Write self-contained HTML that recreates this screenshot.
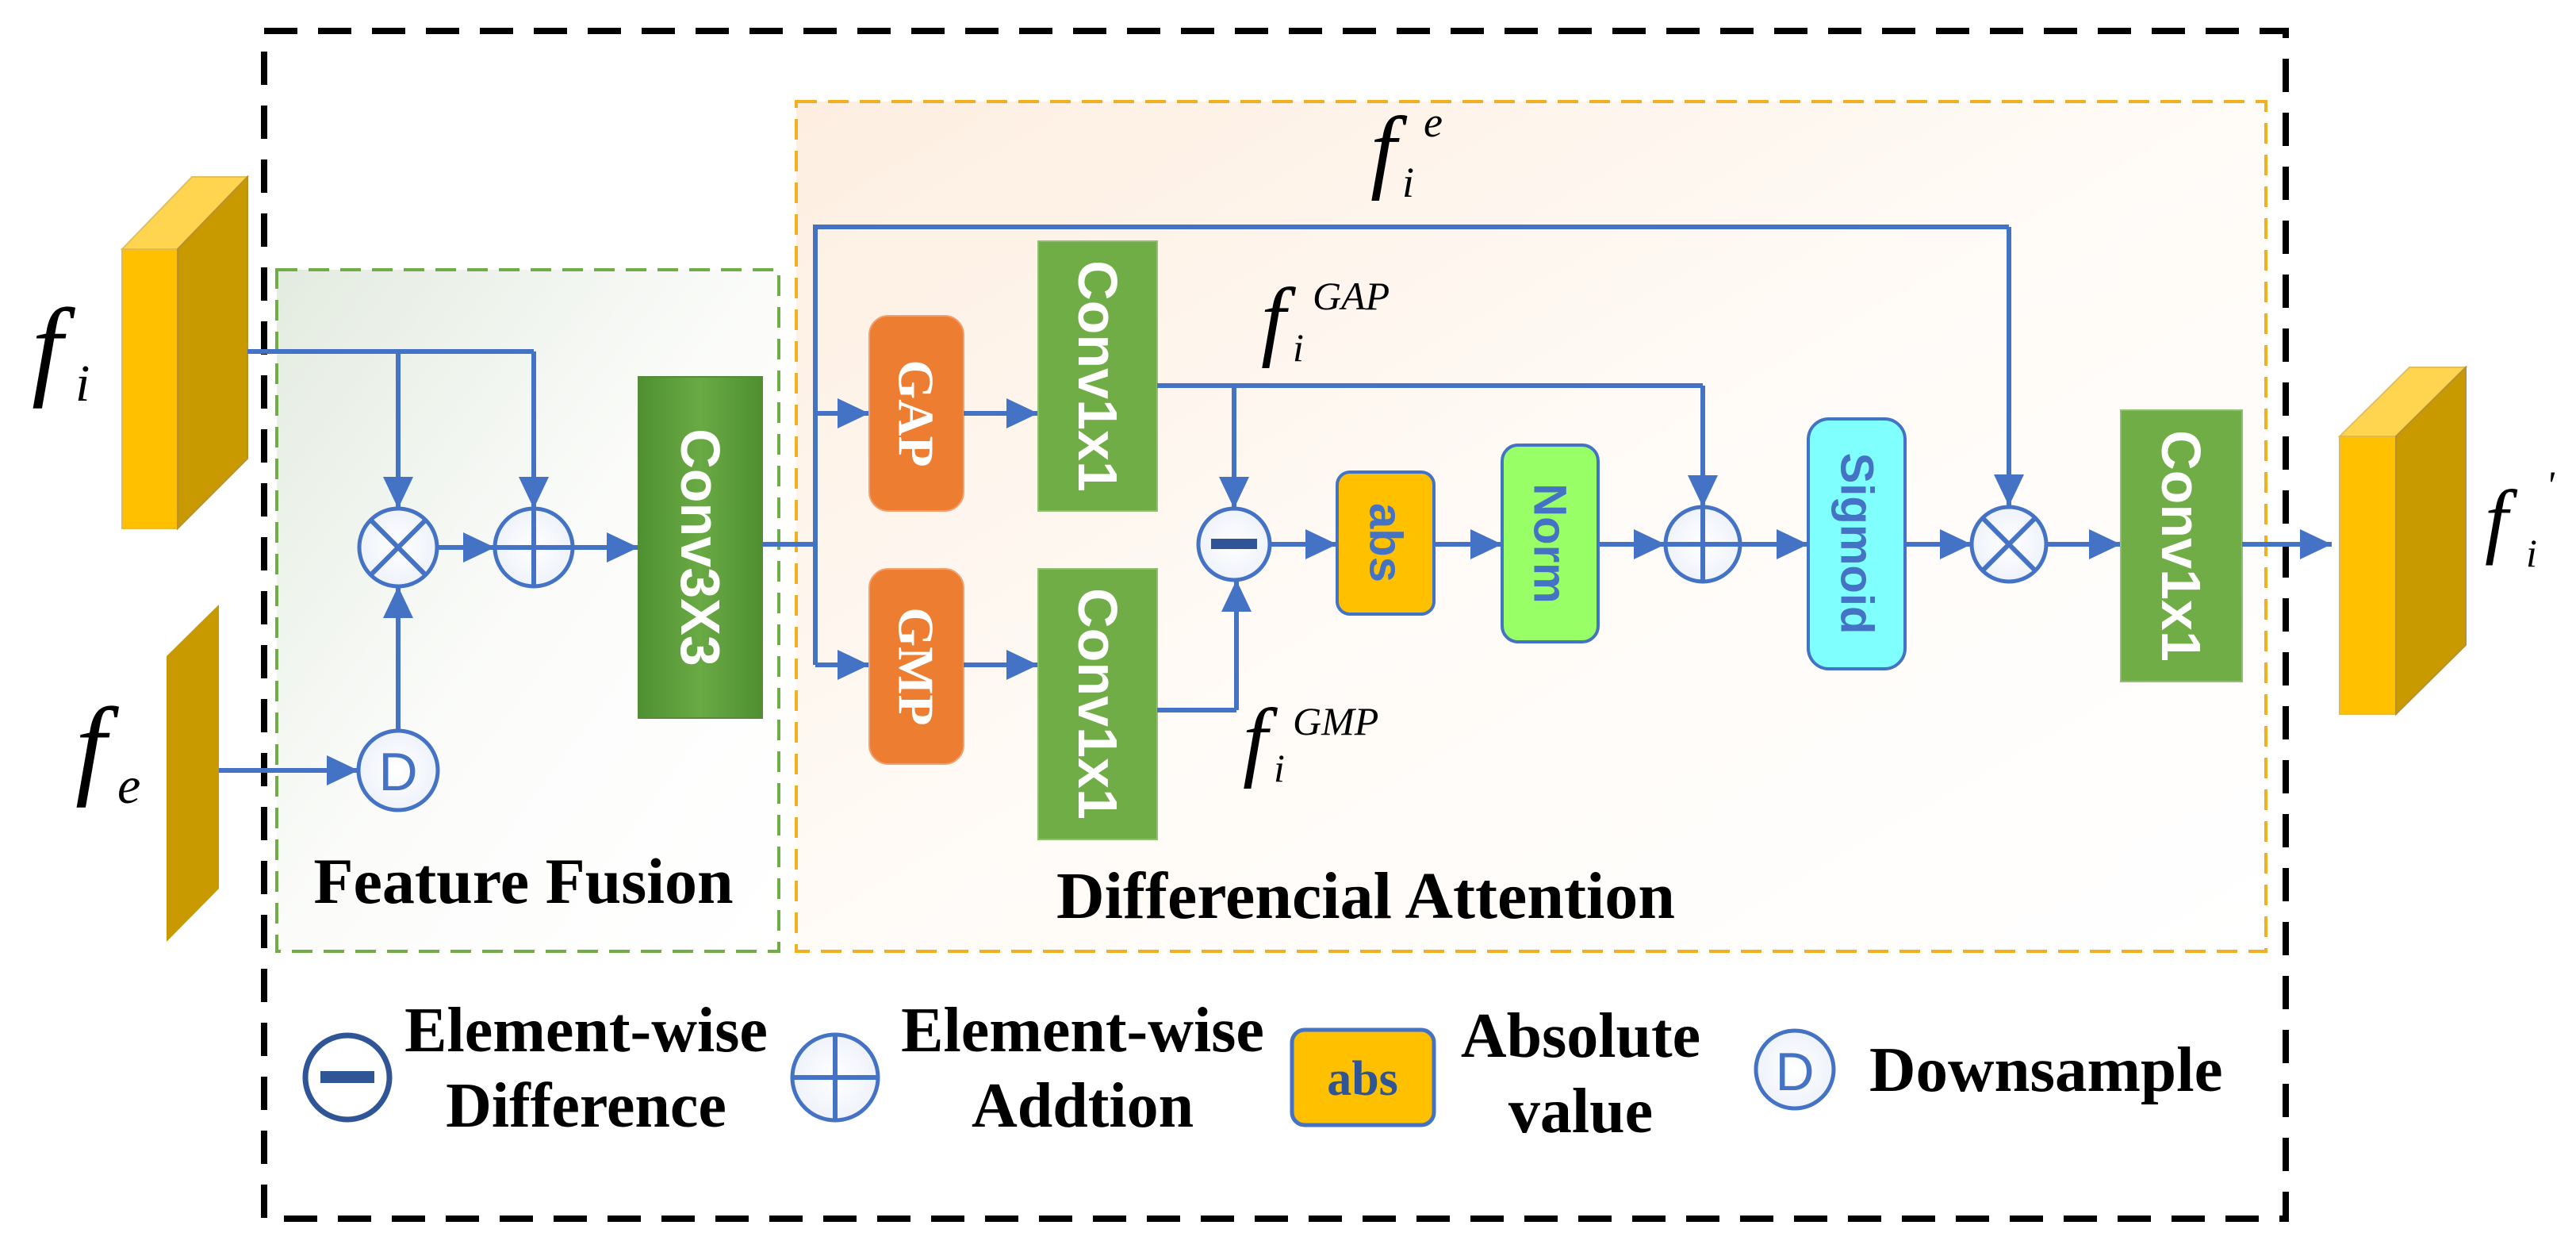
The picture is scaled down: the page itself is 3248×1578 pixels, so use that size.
<!DOCTYPE html>
<html><head><meta charset="utf-8"><style>body{margin:0;background:#fff}svg{display:block}</style></head><body>
<svg width="3248" height="1578" viewBox="0 0 3248 1578" xmlns="http://www.w3.org/2000/svg">
<defs>
<linearGradient id="gg" x1="0" y1="0" x2="1" y2="1"><stop offset="0" stop-color="#e3ebe0"/><stop offset="0.5" stop-color="#fbfcfa"/><stop offset="1" stop-color="#ffffff"/></linearGradient>
<linearGradient id="og" x1="0" y1="0" x2="1" y2="1"><stop offset="0" stop-color="#fdeee0"/><stop offset="0.5" stop-color="#fffbf7"/><stop offset="1" stop-color="#ffffff"/></linearGradient>
<linearGradient id="cg" x1="0" y1="0" x2="1" y2="0"><stop offset="0" stop-color="#4e8f30"/><stop offset="0.5" stop-color="#6aaa45"/><stop offset="1" stop-color="#4e8f30"/></linearGradient>
<marker id="a" markerWidth="40" markerHeight="38" refX="10" refY="5" orient="auto" markerUnits="userSpaceOnUse" viewBox="0 0 10 10" preserveAspectRatio="none"><path d="M0,0 L10,5 L0,10 z" fill="#4472C4"/></marker>
<radialGradient id="cf"><stop offset="0" stop-color="#fff"/><stop offset="1" stop-color="#eef2fa"/></radialGradient>
</defs>
<style>
.l{stroke:#4472C4;stroke-width:6;fill:none}
.ar{stroke:#4472C4;stroke-width:6;fill:none;marker-end:url(#a)}
.c{stroke:#4472C4;stroke-width:5;fill:url(#cf)}
.t{font-family:"Liberation Serif",serif;font-weight:bold;fill:#000}
.m{font-family:"Liberation Serif",serif;font-style:italic;fill:#000}
.s{font-family:"Liberation Sans","DejaVu Sans",sans-serif;font-weight:bold}
</style>
<!-- boxes -->
<rect x="349" y="340" width="633" height="859" fill="url(#gg)" stroke="#70AD47" stroke-width="4" stroke-dasharray="26,14"/>
<rect x="1004" y="128" width="1853" height="1071" fill="url(#og)" stroke="#F0B020" stroke-width="4" stroke-dasharray="26,14"/>
<rect x="333" y="39" width="2549" height="1497" fill="none" stroke="#000" stroke-width="8" stroke-dasharray="42,26"/>
<!-- fi block -->
<polygon points="154,314 224,314 312,223 242,223" fill="#FFD54F" stroke="#e0c060" stroke-width="2"/>
<rect x="154" y="314" width="70" height="352" fill="#FFC000" stroke="#e5b84a" stroke-width="2"/>
<polygon points="224,314 312,223 312,578 224,666" fill="#C99A00" stroke="#b89030" stroke-width="2"/>
<text class="m" x="40" y="485" font-size="140">f</text><text class="m" x="95" y="505" font-size="66">i</text>
<!-- fe -->
<polygon points="210,827 276,762 276,1120 210,1187" fill="#C99A00"/>
<text class="m" x="95" y="988" font-size="140">f</text><text class="m" x="148" y="1012" font-size="66">e</text>
<!-- feature fusion lines -->
<path class="l" d="M312,443 H673"/>
<path class="ar" d="M502,443 V641"/>
<path class="ar" d="M673,443 V641"/>
<path class="ar" d="M276,971 H452"/>
<path class="ar" d="M502,921 V739"/>
<path class="ar" d="M551,690 H624"/>
<path class="ar" d="M722,690 H805"/>
<circle class="c" cx="502" cy="690" r="49"/><path class="l" d="M467,655 L537,725 M537,655 L467,725" stroke-width="4"/>
<circle class="c" cx="673" cy="690" r="49"/><path class="l" d="M624,690 H722 M673,641 V739" stroke-width="4"/>
<circle class="c" cx="502" cy="971" r="50"/>
<text class="s" x="502" y="996" font-size="68" fill="#4472C4" text-anchor="middle" style="font-weight:normal">D</text>
<rect x="805" y="475" width="156" height="430" fill="url(#cg)" stroke="#558b3a" stroke-width="2"/>
<text class="s" transform="translate(883,690) rotate(90)" font-size="70" fill="#fff" text-anchor="middle" dominant-baseline="central">Conv3X3</text>
<!-- attention -->
<path class="l" d="M961,686 H1028 M1028,838 V286 H2533"/>
<path class="ar" d="M2533,286 V638"/>
<path class="ar" d="M1028,521 H1096"/>
<path class="ar" d="M1028,838 H1096"/>
<rect x="1096" y="398" width="119" height="246" rx="24" fill="#ED7D31" stroke="#f3a070" stroke-width="2"/>
<text class="t" transform="translate(1155,521) rotate(90)" font-size="64" style="fill:#fff" text-anchor="middle" dominant-baseline="central">GAP</text>
<rect x="1096" y="717" width="119" height="246" rx="24" fill="#ED7D31" stroke="#f3a070" stroke-width="2"/>
<text class="t" transform="translate(1155,840) rotate(90)" font-size="64" style="fill:#fff" text-anchor="middle" dominant-baseline="central">GMP</text>
<path class="ar" d="M1215,521 H1309"/>
<path class="ar" d="M1215,838 H1309"/>
<rect x="1309" y="304" width="150" height="340" fill="#70AD47" stroke="#8fc070" stroke-width="2"/>
<text class="s" transform="translate(1384,474) rotate(90)" font-size="70" fill="#fff" text-anchor="middle" dominant-baseline="central">Conv1x1</text>
<rect x="1309" y="717" width="150" height="341" fill="#70AD47" stroke="#8fc070" stroke-width="2"/>
<text class="s" transform="translate(1384,887) rotate(90)" font-size="70" fill="#fff" text-anchor="middle" dominant-baseline="central">Conv1x1</text>
<path class="l" d="M1459,486 H2147"/>
<path class="ar" d="M1556,486 V641"/>
<path class="ar" d="M2147,486 V639"/>
<path class="l" d="M1459,895 H1559"/><path class="ar" d="M1559,895 V731"/>
<circle class="c" cx="1556" cy="686" r="45"/><rect x="1527" y="679" width="58" height="13" fill="#2F5597"/>
<path class="ar" d="M1601,686 H1686"/>
<rect x="1686" y="595" width="122" height="179" rx="16" fill="#FFC000" stroke="#4472C4" stroke-width="4"/>
<text class="s" transform="translate(1747,684) rotate(90)" font-size="58" fill="#4472C4" text-anchor="middle" dominant-baseline="central">abs</text>
<path class="ar" d="M1808,686 H1894"/>
<rect x="1894" y="561" width="121" height="248" rx="20" fill="#99FF66" stroke="#4472C4" stroke-width="4"/>
<text class="s" transform="translate(1954,685) rotate(90)" font-size="58" fill="#4472C4" text-anchor="middle" dominant-baseline="central">Norm</text>
<path class="ar" d="M2015,686 H2100"/>
<circle class="c" cx="2147" cy="686" r="47"/><path class="l" d="M2100,686 H2194 M2147,639 V733" stroke-width="4"/>
<path class="ar" d="M2194,686 H2280"/>
<rect x="2280" y="528" width="122" height="315" rx="26" fill="#80FFFF" stroke="#4472C4" stroke-width="4"/>
<text class="s" transform="translate(2341,685) rotate(90)" font-size="58" fill="#4472C4" text-anchor="middle" dominant-baseline="central">Sigmoid</text>
<path class="ar" d="M2402,686 H2486"/>
<circle class="c" cx="2533" cy="686" r="47"/><path class="l" d="M2500,653 L2566,719 M2566,653 L2500,719" stroke-width="4"/>
<path class="ar" d="M2580,686 H2674"/>
<rect x="2674" y="517" width="153" height="342" fill="#70AD47" stroke="#8fc070" stroke-width="2"/>
<text class="s" transform="translate(2750,688) rotate(90)" font-size="70" fill="#fff" text-anchor="middle" dominant-baseline="central">Conv1x1</text>
<path class="ar" d="M2827,686 H2940"/>
<!-- output block -->
<polygon points="2950,550 3021,550 3109,463 3038,463" fill="#FFD54F" stroke="#e0c060" stroke-width="2"/>
<rect x="2950" y="550" width="71" height="350" fill="#FFC000" stroke="#e5b84a" stroke-width="2"/>
<polygon points="3021,550 3109,463 3109,813 3021,900" fill="#C99A00" stroke="#b89030" stroke-width="2"/>
<text class="m" x="3133" y="690" font-size="105">f</text><text class="m" x="3185" y="714" font-size="50">i</text><text class="m" x="3210" y="628" font-size="50">'</text>
<!-- math labels -->
<text class="m" x="1728" y="228" font-size="118">f</text><text class="m" x="1768" y="248" font-size="54">i</text><text class="m" x="1795" y="172" font-size="54">e</text>
<text class="m" x="1590" y="440" font-size="112">f</text><text class="m" x="1630" y="455" font-size="50">i</text><text class="m" x="1655" y="390" font-size="50">GAP</text>
<text class="m" x="1567" y="970" font-size="112">f</text><text class="m" x="1606" y="985" font-size="50">i</text><text class="m" x="1630" y="926" font-size="50">GMP</text>
<!-- titles -->
<text class="t" x="660" y="1138" font-size="82" text-anchor="middle">Feature Fusion</text>
<text class="t" x="1722" y="1157" font-size="84" text-anchor="middle">Differencial Attention</text>
<!-- legend -->
<circle cx="438" cy="1358" r="53" fill="#fff" stroke="#2F5597" stroke-width="7"/><rect x="404" y="1350" width="68" height="15" fill="#2F5597"/>
<text class="t" x="739" y="1325" font-size="80" text-anchor="middle">Element-wise</text>
<text class="t" x="739" y="1420" font-size="80" text-anchor="middle">Difference</text>
<circle class="c" cx="1053" cy="1358" r="54"/><path class="l" d="M999,1358 H1107 M1053,1304 V1412" stroke-width="4"/>
<text class="t" x="1365" y="1325" font-size="80" text-anchor="middle">Element-wise</text>
<text class="t" x="1365" y="1420" font-size="80" text-anchor="middle">Addtion</text>
<rect x="1629" y="1298" width="179" height="120" rx="16" fill="#FFC000" stroke="#4472C4" stroke-width="5"/>
<text class="t" x="1718" y="1380" font-size="62" text-anchor="middle" style="fill:#2F5597">abs</text>
<text class="t" x="1993" y="1332" font-size="80" text-anchor="middle">Absolute</text>
<text class="t" x="1993" y="1427" font-size="80" text-anchor="middle">value</text>
<circle class="c" cx="2263" cy="1348" r="49"/>
<text class="s" x="2263" y="1374" font-size="68" fill="#4472C4" text-anchor="middle" style="font-weight:normal">D</text>
<text class="t" x="2357" y="1375" font-size="81">Downsample</text>
</svg>
</body></html>
